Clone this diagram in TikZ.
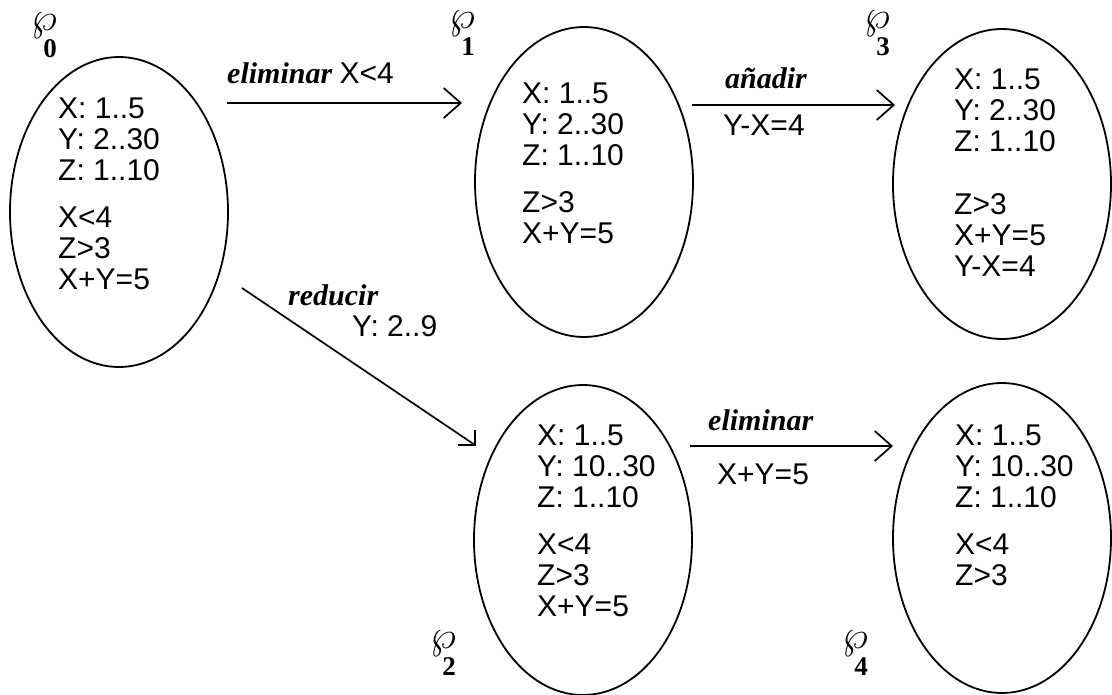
\documentclass[tikz,border=0pt]{standalone}
\usepackage{graphicx}
\usepackage{fontspec}
\setmainfont{Liberation Serif}
\setsansfont{Liberation Sans}
\usetikzlibrary{arrows.meta,shapes.geometric}

\tikzset{
  estado/.style={draw, ellipse, line width=1.8pt, minimum width=218pt, minimum height=310pt, inner sep=0pt},
  dominio/.style={font=\sffamily\fontsize{30}{31}\selectfont, align=left, anchor=north west, inner sep=0pt},
  etiq/.style={font=\sffamily\fontsize{30}{31}\selectfont, anchor=base west, inner sep=0pt},
  oper/.style={font=\rmfamily\bfseries\itshape\fontsize{30}{31}\selectfont, anchor=base west, inner sep=0pt},
  linea/.style={line width=1.7pt},
  flecha/.style={linea, -{Straight Barb[length=17pt,width=30pt]}},
}

\begin{document}
\begin{tikzpicture}[x=1pt, y=-1pt]
    \useasboundingbox (0,0) rectangle (1112,694);

    % estados
    \node[estado] (e0) at (119,212) {};
    \node[estado] (e1) at (584,182) {};
    \node[estado] (e3) at (1002,184) {};
    \node[estado] (e2) at (583,540) {};
    \node[estado] (e4) at (1002,538) {};

    \node[dominio] (d0) at (58,98) {X: 1..5\\Y: 2..30\\Z: 1..10\\[16pt]X<4\\Z>3\\X+Y=5};
    \node[dominio] (d1) at (522,83) {X: 1..5\\Y: 2..30\\Z: 1..10\\[16pt]Z>3\\X+Y=5};
    \node[dominio] (d3) at (954,69) {X: 1..5\\Y: 2..30\\Z: 1..10\\[32pt]Z>3\\X+Y=5\\Y-X=4};
    \node[dominio] (d2) at (537,425) {X: 1..5\\Y: 10..30\\Z: 1..10\\[16pt]X<4\\Z>3\\X+Y=5};
    \node[dominio] (d4) at (955,425) {X: 1..5\\Y: 10..30\\Z: 1..10\\[16pt]X<4\\Z>3};

    % nombres de los estados
    \foreach \n/\x/\y in {0/44/26, 1/462/24, 3/877/24, 2/443/644, 4/855/644} {
        \node[inner sep=0pt] (w\n) at (\x,\y) {\scalebox{4}{$\wp$}};
        \node[font=\rmfamily\bfseries\fontsize{27}{27}\selectfont, inner sep=0pt] (n\n) at (\x+6,\y+23) {\n};
    }

    % transiciones
    \coordinate (a0) at (227,103);
    \coordinate (a1) at (462,103);
    \coordinate (b1) at (692,105);
    \coordinate (b3) at (895,105);
    \coordinate (c2) at (690,446);
    \coordinate (c4) at (893,446);
    \coordinate (r0) at (242,288);
    \coordinate (r2) at (475,445);

    \draw[flecha] (a0) -- (a1);
    \draw[flecha] (b1) -- (b3);
    \draw[flecha] (c2) -- (c4);
    \draw[linea] (r0) -- (r2);
    \draw[linea] (r2) ++(0,-15) -- (r2) -- ++(-17,0);

    \node[oper] (t01) at (227,83) {eliminar \sffamily\mdseries\upshape X<4};
    \node[oper] (t13) at (725,88) {añadir};
    \node[etiq] (u13) at (723,135) {Y-X=4};
    \node[oper] (t24) at (708,430) {eliminar};
    \node[etiq] (u24) at (717,484) {X+Y=5};
    \node[oper] (t02) at (288,305) {reducir};
    \node[etiq] (u02) at (352,336) {Y: 2..9};
\end{tikzpicture}
\end{document}
